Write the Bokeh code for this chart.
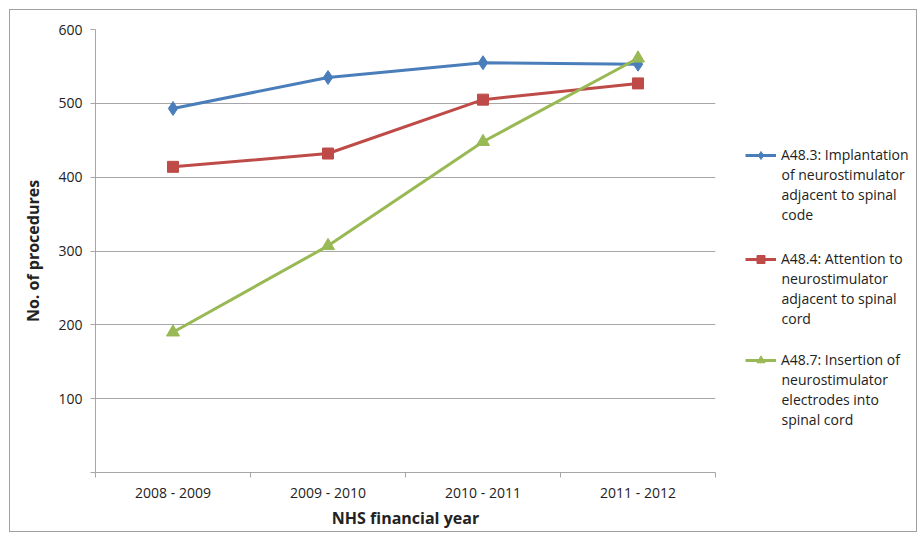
import numpy as np
from bokeh.plotting import figure
from bokeh.layouts import row
from bokeh.models import FixedTicker, Legend, LegendItem, Label
from bokeh.embed import file_html
from bokeh.resources import INLINE

years = ["2008 - 2009", "2009 - 2010", "2010 - 2011", "2011 - 2012"]
a483 = [493, 535, 555, 553]
a484 = [414, 432, 505, 527]
a487 = [190, 307, 448, 561]
labels = [
    ["A48.3: Implantation", "of neurostimulator\nadjacent to spinal\ncode"],
    ["A48.4: Attention to", "neurostimulator\nadjacent to spinal\ncord"],
    ["A48.7: Insertion of", "neurostimulator\nelectrodes into\nspinal cord"],
]
y_ticks = [0, 100, 200, 300, 400, 500, 600]

FONT = "Open Sans"
GRID = "#a6a6a6"
TXT = "#222222"
BLUE = "#4a7ebb"
RED = "#be4b48"
GREEN = "#98b954"
H = 521

x = np.arange(len(years)) + 0.5
n = len(years)
series = [a483, a484, a487]
styles = [(BLUE, "diamond", 14), (RED, "square", 11), (GREEN, "triangle", 13)]

p = figure(width=720, height=H, output_backend="svg", toolbar_location=None,
           x_range=(0, n), y_range=(0, 600),
           min_border_left=85, min_border_top=19, min_border_bottom=58, min_border_right=15)
p.outline_line_color = None
p.background_fill_color = "white"
p.border_fill_color = "white"

# y axis
p.yaxis.ticker = FixedTicker(ticks=y_ticks)
p.yaxis.major_label_overrides = {0: ""}
p.yaxis.axis_line_color = GRID
p.yaxis.major_tick_line_color = GRID
p.yaxis.major_tick_in = 0
p.yaxis.major_tick_out = 5
p.yaxis.minor_tick_line_color = None
p.yaxis.major_label_standoff = 8
p.yaxis.major_label_text_font = FONT
p.yaxis.major_label_text_font_size = "14px"
p.yaxis.major_label_text_color = TXT
p.yaxis.axis_label = "No. of procedures"
p.yaxis.axis_label_text_font = FONT
p.yaxis.axis_label_text_font_style = "bold"
p.yaxis.axis_label_text_font_size = "16px"
p.yaxis.axis_label_text_color = TXT
p.yaxis.axis_label_standoff = 11

# x axis
p.xaxis.ticker = FixedTicker(ticks=list(x), minor_ticks=list(range(n + 1)))
p.xaxis.major_label_overrides = {float(v): s for v, s in zip(x, years)}
p.xaxis.axis_line_color = GRID
p.xaxis.major_tick_line_color = None
p.xaxis.major_tick_out = 5
p.xaxis.major_tick_in = 0
p.xaxis.minor_tick_line_color = GRID
p.xaxis.minor_tick_in = 0
p.xaxis.minor_tick_out = 5
p.xaxis.major_label_standoff = 5
p.xaxis.major_label_text_font = FONT
p.xaxis.major_label_text_font_size = "14px"
p.xaxis.major_label_text_color = TXT
p.xaxis.axis_label = "NHS financial year"
p.xaxis.axis_label_text_font = FONT
p.xaxis.axis_label_text_font_style = "bold"
p.xaxis.axis_label_text_font_size = "16px"
p.xaxis.axis_label_text_color = TXT
p.xaxis.axis_label_standoff = 2

p.xgrid.grid_line_color = None
p.ygrid.grid_line_color = GRID
p.ygrid.grid_line_width = 1

for ys, (col, mk, sz) in zip(series, styles):
    p.line(x, ys, line_color=col, line_width=3)
    p.scatter(x, ys, marker=mk, size=sz, fill_color=col, line_color=col)

# legend panel: a second, axis-less figure; its renderers carry the same series
# but fall outside its (0..1) ranges, so only the legend glyphs show
lp = figure(width=186, height=H, output_backend="svg", toolbar_location=None,
            x_axis_type=None, y_axis_type=None, x_range=(0, 1), y_range=(0, 1),
            min_border=0)
lp.outline_line_color = None
lp.grid.visible = False
lp.background_fill_color = "white"
lp.border_fill_color = "white"

first_line = [133, 237, 338]   # window y of each entry's first line
OFF = 73
for ys, (col, mk, sz), lab, fy in zip(series, styles, labels, first_line):
    ln = lp.line(x, ys, line_color=col, line_width=3)
    sc = lp.scatter(x, ys, marker=mk, size=sz, fill_color=col, line_color=col)
    lg = Legend(items=[LegendItem(label=lab[0], renderers=[ln, sc])],
                location=(15, H + 10 - fy - 17.5 - OFF))
    lg.border_line_color = None
    lg.background_fill_alpha = 0
    lg.padding = 0
    lg.margin = 0
    lg.glyph_width = 31
    lg.glyph_height = 20
    lg.label_height = 20
    lg.label_standoff = 5
    lg.label_text_font = FONT
    lg.label_text_font_size = "14px"
    lg.label_text_color = TXT
    lp.add_layout(lg, "center")
    lp.add_layout(Label(x=51, y=H + 10 - (fy + 10) - OFF - 7, x_units="screen", y_units="screen",
                        text=lab[1], text_font=FONT, text_font_size="14px",
                        text_color=TXT, text_align="left", text_baseline="top",
                        text_line_height=1.07))

layout = row(p, lp, styles={"margin-left": "9px", "margin-top": "9px",
                            "border": "1px solid #a0a0a0", "background": "white"})

open("out.html", "w").write(file_html(layout, INLINE))
